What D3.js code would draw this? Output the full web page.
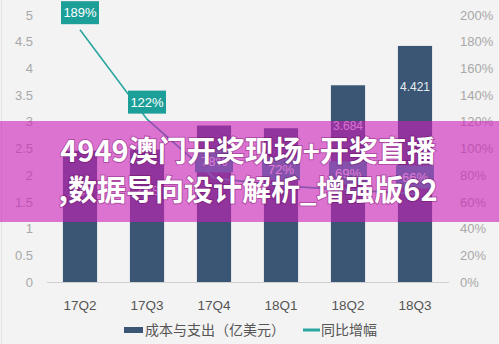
<!DOCTYPE html>
<html>
<head>
<meta charset="utf-8">
<script src="https://cdn.jsdelivr.net/npm/d3@7"></script>
<style>
  html, body { margin: 0; padding: 0; background: #f3f3f3; }
  svg { display: block; font-family: "Liberation Sans", "Noto Sans CJK SC", sans-serif; }
</style>
</head>
<body>
<div id="chart"></div>
<script>
const quarters = ['17Q2', '17Q3', '17Q4', '18Q1', '18Q2', '18Q3']
const cost = [2.46, 2.48, 2.93, 2.88, 3.684, 4.421]
const growth = [189, 122, 78, 72, 69, 66]
const leftTicks = [0, 0.5, 1, 1.5, 2, 2.5, 3, 3.5, 4, 4.5, 5]
const rightTicks = [0, 20, 40, 60, 80, 100, 120, 140, 160, 180, 200]
const legendNames = ['成本与支出（亿美元）', '同比增幅']
const bannerLines = ['4949澳门开奖现场+开奖直播', ',数据导向设计解析_增强版62']

const W = 499, H = 344
const barColor = '#3b5674'
const teal = '#1d9f99'

const svg = d3.select('#chart').append('svg')
  .attr('width', W)
  .attr('height', H)

svg.append('rect').attr('width', W).attr('height', H).attr('fill', '#f3f3f3')
svg.append('line').attr('x1', 1.5).attr('x2', 1.5).attr('y1', 0).attr('y2', H)
  .attr('stroke', '#e2e2e2')

const x = d3.scaleBand().domain(quarters).range([46.5, 448.5])
  .paddingInner(0.49).paddingOuter(0.245)
const y = d3.scaleLinear().domain([0, 5]).range([282, 15])
const y2 = d3.scaleLinear().domain([0, 200]).range([282, 15])

// left axis
const yAxis = d3.axisLeft(y).tickValues(leftTicks).tickSize(0).tickPadding(0)
  .tickFormat(d => String(d))
svg.append('g').attr('transform', 'translate(33,0)').call(yAxis)
  .call(g => g.select('.domain').remove())
  .selectAll('text').attr('fill', '#a8a8a8').attr('font-size', 13)

// right axis
const yAxis2 = d3.axisRight(y2).tickValues(rightTicks).tickSize(0).tickPadding(0)
  .tickFormat(d => d + '%')
svg.append('g').attr('transform', 'translate(460,0)').call(yAxis2)
  .call(g => g.select('.domain').remove())
  .selectAll('text').attr('fill', '#a8a8a8').attr('font-size', 13)

// bottom axis
const xAxis = d3.axisBottom(x).tickSize(0).tickPadding(18)
svg.append('g').attr('transform', 'translate(0,282)').call(xAxis)
  .call(g => g.select('.domain').attr('stroke', '#d0d0d0'))
  .selectAll('text').attr('fill', '#555').attr('font-size', 13.5)

// bars
svg.append('g').selectAll('rect').data(cost).join('rect')
  .attr('x', (d, i) => x(quarters[i]))
  .attr('width', x.bandwidth())
  .attr('y', d => y(d))
  .attr('height', d => y(0) - y(d))
  .attr('fill', barColor)

svg.append('g').selectAll('text').data(cost).join('text')
  .attr('x', (d, i) => x(quarters[i]) + x.bandwidth() / 2)
  .attr('y', d => y(d) + 45)
  .attr('text-anchor', 'middle')
  .attr('font-size', 12)
  .attr('fill', '#e4ecf2')
  .text(d => String(d))

// growth line
const line = d3.line()
  .x((d, i) => x(quarters[i]) + x.bandwidth() / 2)
  .y(d => y2(d))
svg.append('path').datum(growth)
  .attr('d', line)
  .attr('fill', 'none')
  .attr('stroke', '#2aa6a1')
  .attr('stroke-width', 1.6)

const lbl = svg.append('g').selectAll('g').data(growth).join('g')
  .attr('transform', (d, i) => `translate(${x(quarters[i]) + x.bandwidth() / 2},${y2(d) - 17})`)
lbl.append('rect')
  .attr('x', -19).attr('y', -11.5).attr('width', 38).attr('height', 23)
  .attr('fill', teal)
lbl.append('text')
  .attr('text-anchor', 'middle').attr('dy', '0.36em')
  .attr('font-size', 13).attr('fill', '#fff')
  .text(d => d + '%')

// legend
const legend = svg.append('g').attr('transform', 'translate(0,330)')
legend.append('rect').attr('x', 124).attr('y', -3).attr('width', 19).attr('height', 6).attr('fill', barColor)
legend.append('text').attr('x', 145).attr('dy', '0.35em').attr('font-size', 14)
  .attr('font-family', '"Noto Sans CJK SC", sans-serif').attr('fill', '#555').text(legendNames[0])
legend.append('line').attr('x1', 303).attr('x2', 320).attr('stroke', '#2aa6a1').attr('stroke-width', 3)
legend.append('text').attr('x', 321).attr('dy', '0.35em').attr('font-size', 14)
  .attr('font-family', '"Noto Sans CJK SC", sans-serif').attr('fill', '#555').text(legendNames[1])

// overlay banner
svg.append('rect').attr('x', 0).attr('y', 121).attr('width', W).attr('height', 101)
  .attr('fill', 'rgb(205,30,185)').attr('opacity', 0.6)
svg.append('g').selectAll('text').data(bannerLines).join('text')
  .attr('x', 248)
  .attr('y', (d, i) => 152 + i * 39)
  .attr('dy', '0.35em')
  .attr('text-anchor', 'middle')
  .attr('font-family', '"Noto Sans CJK SC", sans-serif')
  .attr('font-weight', 'bold')
  .attr('font-size', 29)
  .attr('fill', '#fff')
  .style('paint-order', 'stroke')
  .attr('stroke', 'rgba(90,0,80,0.35)')
  .attr('stroke-width', 2)
  .text(d => d)
</script>
</body>
</html>
